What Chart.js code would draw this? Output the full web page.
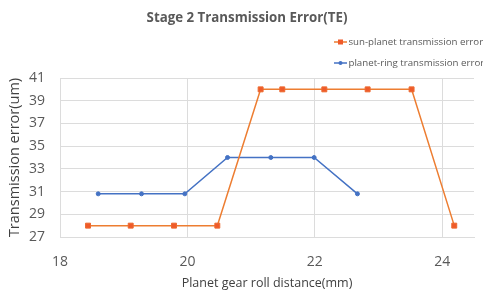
<!DOCTYPE html>
<html>
<head>
<meta charset="utf-8">
<script src="https://cdn.jsdelivr.net/npm/chart.js@4"></script>
<style>
  html, body { margin: 0; padding: 0; background: #ffffff; overflow: hidden; }
  #wrap { width: 483px; height: 294px; }
</style>
</head>
<body>
<div id="wrap"><canvas id="c" width="483" height="294"></canvas></div>
<script>
const chartTitle = 'Stage 2 Transmission Error(TE)';
const xAxisTitle = 'Planet gear roll distance(mm)';
const yAxisTitle = 'Transmission error(um)';
const seriesNames = ['sun-planet transmission error', 'planet-ring transmission error'];

const sunX = [18.44, 19.11, 19.79, 20.47, 21.15, 21.49, 22.15, 22.83, 23.52, 24.19];
const sunY = [28, 28, 28, 28, 40, 40, 40, 40, 40, 28];
const ringX = [18.60, 19.28, 19.96, 20.63, 21.31, 21.99, 22.67];
const ringY = [30.8, 30.8, 30.8, 34, 34, 34, 30.8];

const xTicks = [18, 20, 22, 24];
const yTicks = [27, 29, 31, 33, 35, 37, 39, 41];

const FONT = "'Open Sans', 'Noto Sans', sans-serif";
const GRID = '#dcdcdc';
const TEXT = '#595959';

function pts(xs, ys) { return xs.map((x, i) => ({ x: x, y: ys[i] })); }

const headerPlugin = {
  id: 'header',
  afterDraw(chart) {
    const ctx = chart.ctx;
    ctx.save();
    // title
    ctx.fillStyle = TEXT;
    ctx.font = "bold 13.3px " + FONT;
    ctx.textAlign = 'center';
    ctx.textBaseline = 'middle';
    ctx.fillText(chartTitle, 247, 18);
    // legend
    ctx.font = "9.7px " + FONT;
    ctx.textAlign = 'left';
    chart.data.datasets.forEach((ds, i) => {
      const y = 42 + i * 21;
      ctx.strokeStyle = ds.borderColor;
      ctx.lineWidth = 1.5;
      ctx.beginPath();
      ctx.moveTo(334, y);
      ctx.lineTo(347, y);
      ctx.stroke();
      ctx.fillStyle = ds.pointBackgroundColor;
      ctx.strokeStyle = ds.pointBorderColor;
      ctx.lineWidth = 1;
      if (ds.pointStyle === 'rect') {
        ctx.fillRect(338, y - 2.5, 5, 5);
      } else {
        ctx.beginPath();
        ctx.arc(340.5, y, 2, 0, Math.PI * 2);
        ctx.fill();
      }
      ctx.fillStyle = TEXT;
      ctx.fillText(ds.label, 348.5, y);
    });
    ctx.restore();
  }
};

new Chart(document.getElementById('c'), {
  type: 'scatter',
  data: {
    datasets: [
      {
        label: seriesNames[0],
        data: pts(sunX, sunY),
        showLine: true,
        borderColor: '#ED7D31',
        borderWidth: 1.5,
        pointStyle: 'rect',
        pointRadius: 3.5,
        pointBackgroundColor: '#EF5A2A',
        pointBorderColor: '#ED6A30',
        pointBorderWidth: 1
      },
      {
        label: seriesNames[1],
        data: pts(ringX, ringY),
        showLine: true,
        borderColor: '#4472C4',
        borderWidth: 1.5,
        pointStyle: 'circle',
        pointRadius: 2,
        pointBackgroundColor: '#4472C4',
        pointBorderColor: '#4472C4',
        pointBorderWidth: 1
      }
    ]
  },
  options: {
    responsive: false,
    animation: false,
    events: [],
    layout: { padding: { left: 0, right: 9, top: 78, bottom: 0 } },
    plugins: {
      legend: { display: false },
      title: { display: false },
      tooltip: { enabled: false }
    },
    scales: {
      x: {
        type: 'linear',
        min: 18,
        max: 24.5,
        afterBuildTicks: s => { s.ticks = xTicks.map(v => ({ value: v })); },
        afterFit: s => { s.height = 57; },
        grid: { color: GRID, drawTicks: false, lineWidth: 1 },
        border: { color: GRID, width: 1 },
        ticks: { color: TEXT, font: { family: FONT, size: 14 }, padding: 17, maxRotation: 0 },
        title: { display: true, text: xAxisTitle, color: '#404040', font: { family: FONT, size: 12.5 }, padding: { top: 0, bottom: 3 } }
      },
      y: {
        type: 'linear',
        min: 27,
        max: 41,
        afterBuildTicks: s => { s.ticks = yTicks.map(v => ({ value: v })); },
        afterFit: s => { s.width = 60; },
        grid: { color: GRID, drawTicks: false, lineWidth: 1 },
        border: { color: GRID, width: 1 },
        ticks: { color: TEXT, font: { family: FONT, size: 14 }, padding: 15 },
        title: { display: true, text: yAxisTitle, color: '#404040', font: { family: FONT, size: 14.5 }, padding: { top: 6, bottom: 0 } }
      }
    }
  },
  plugins: [headerPlugin]
});
</script>
</body>
</html>
